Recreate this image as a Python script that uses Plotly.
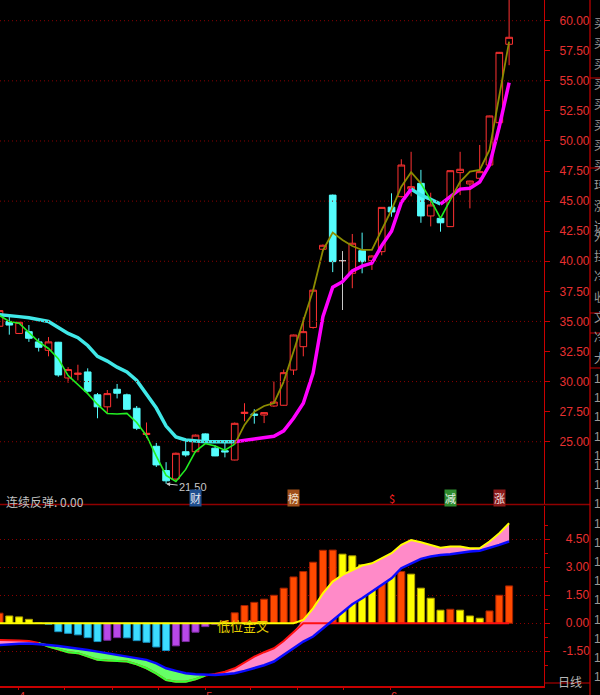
import plotly.graph_objects as go

# ---- price panel: 53 daily candles ----
opens = [34.6, 35.0, 34.0, 34.15, 33.3, 32.6, 33.27, 30.3, 30.6, 30.8,
         28.9, 27.9, 29.36, 28.9, 27.78, 25.6, 24.62, 22.6, 21.9, 24.17,
         24.17, 25.65, 24.46, 24.25, 23.48, 27.35, 27.3, 27.22, 27.97, 28.03,
         30.96, 32.9, 34.5, 41.0, 45.5, 40.05, 39.0, 40.88, 40.05, 40.8,
         44.5, 45.37, 46.0, 46.48, 43.77, 43.57, 42.88, 47.37, 46.43, 46.9,
         48.0, 51.52, 58.04]
highs = [36.3, 35.4, 34.95, 34.7, 33.6, 33.7, 33.3, 31.2, 31.4, 31.1,
         29.05, 29.3, 29.8, 29.0, 27.97, 26.6, 24.9, 23.3, 24.1, 25.2,
         25.6, 25.7, 24.7, 25.1, 26.6, 28.2, 27.7, 27.45, 30.0, 31.0,
         33.9, 35.35, 37.65, 41.4, 45.55, 40.85, 42.27, 42.38, 40.5, 44.5,
         45.65, 48.48, 49.1, 47.6, 45.7, 43.6, 47.55, 49.1, 46.7, 49.67,
         52.1, 57.4, 63.0]
lows = [34.3, 33.9, 33.95, 33.3, 32.5, 32.1, 30.4, 29.9, 30.1, 29.1,
        26.95, 27.4, 28.6, 27.65, 25.97, 25.3, 22.9, 21.5, 21.8, 23.75,
        24.1, 25.0, 23.8, 23.7, 23.45, 26.7, 26.5, 26.55, 27.9, 28.0,
        30.55, 32.1, 34.4, 40.95, 39.1, 35.95, 37.76, 39.0, 39.28, 40.5,
        43.7, 45.3, 45.4, 43.2, 42.9, 42.46, 42.85, 45.5, 44.4, 46.85,
        47.9, 51.4, 56.3]
closes = [35.9, 34.7, 34.93, 33.6, 32.85, 33.3, 30.55, 31.0, 30.7, 29.2,
          27.9, 29.0, 29.03, 27.7, 26.12, 25.7, 23.07, 21.75, 24.04, 23.9,
          25.55, 25.1, 23.82, 24.15, 26.53, 27.45, 27.2, 27.42, 28.3, 30.74,
          33.87, 34.15, 37.6, 41.33, 39.97, 40.05, 41.5, 39.97, 40.44, 44.48,
          44.1, 48.0, 46.2, 43.77, 44.68, 43.2, 47.53, 47.65, 46.67, 47.45,
          52.08, 57.37, 58.62]
ma_slow = [35.55, 35.5, 35.4, 35.3, 35.15, 35.0, 34.5, 34.0, 33.65, 33.0,
           32.1, 31.7, 31.2, 30.8, 30.1, 29.0, 27.8, 26.3, 25.4, 25.15,
           25.05, 25.0, 25.0, 25.0, 25.0, 25.1, 25.2, 25.3, 25.45, 25.9,
           26.95, 28.2, 30.7, 35.4, 37.84, 38.3, 39.2, 39.6, 39.85, 41.3,
           42.5, 44.9, 46.0, 45.5, 45.15, 44.76, 45.37, 46.0, 46.07, 46.6,
           48.0, 51.2, 54.85]
ma_fast = [35.5, 35.0, 34.85, 34.1, 33.3, 32.75, 31.9, 30.5, 29.75, 29.0,
           28.1, 27.35, 27.3, 27.36, 26.6, 25.5, 23.8, 22.2, 21.7, 22.7,
           24.2, 24.85, 24.65, 24.3, 24.8, 26.4, 27.5, 27.97, 28.2, 30.0,
           32.5, 35.1, 37.6, 40.9, 42.38, 41.77, 41.27, 40.94, 40.94, 42.6,
           44.27, 46.2, 47.4, 46.48, 45.1, 43.57, 45.1, 46.6, 47.45, 47.59,
           49.25, 53.68, 58.26]

# event badges under the candles
event_idx = [20, 30, 40, 46, 51]
event_text = ["财", "榜", "$", "减", "涨"]
event_bg = ["#1F4F8F", "#A0501A", "rgba(0,0,0,0)", "#2E8B2E", "#8B1A1A"]
event_fg = ["#E8E8F0", "#F0E0D0", "#FF2020", "#E8F0E8", "#F0E0E0"]

# ---- indicator panel ----
hist = [0.54, 0.39, 0.34, 0.21, 0.0, -0.05, -0.45, -0.54, -0.62, -0.77,
        -0.98, -0.91, -0.77, -0.78, -0.93, -1.02, -1.27, -1.46, -1.21, -0.98,
        -0.48, -0.18, -0.05, 0.12, 0.56, 0.95, 1.12, 1.29, 1.5, 1.88,
        2.48, 2.77, 3.27, 3.91, 3.92, 3.7, 3.61, 3.13, 2.64, 2.71,
        2.59, 2.77, 2.63, 1.88, 1.34, 0.70, 0.75, 0.70, 0.39, 0.27,
        0.66, 1.5, 2.0]
fast = [-0.9, -0.9, -0.92, -0.95, -1.05, -1.25, -1.4, -1.55, -1.6, -1.78,
        -1.96, -2.0, -2.02, -2.05, -2.2, -2.41, -2.7, -3.04, -3.13, -3.13,
        -3.0, -2.8, -2.72, -2.6, -2.41, -2.1, -1.79, -1.55, -1.34, -0.95,
        -0.45, 0.18, 0.8, 1.6, 2.23, 2.59, 2.86, 3.09, 3.21, 3.48,
        3.75, 4.2, 4.46, 4.34, 4.2, 4.05, 4.11, 4.11, 4.02, 4.02,
        4.38, 4.82, 5.36]
slow = [-1.16, -1.12, -1.1, -1.08, -1.1, -1.16, -1.22, -1.28, -1.34, -1.43,
        -1.52, -1.6, -1.68, -1.79, -1.88, -1.96, -2.15, -2.41, -2.55, -2.68,
        -2.73, -2.77, -2.77, -2.73, -2.68, -2.55, -2.41, -2.25, -2.05, -1.7,
        -1.34, -0.98, -0.71, -0.27, 0.18, 0.63, 1.02, 1.34, 1.7, 2.05,
        2.41, 2.95, 3.21, 3.45, 3.57, 3.66, 3.7, 3.79, 3.84, 3.88,
        4.02, 4.2, 4.38]

month_ticks = [1.9, 21.0, 39.85]
month_labels = ["4", "5", "6"]
week_ticks = [6.68, 11.48, 16.2, 25.6, 30.4, 35.05]

price_ticks = [25 + 2.5 * i for i in range(15)]
price_grid = [25, 30, 35, 40, 45, 50, 55, 60]
ind_ticks = [-1.5, 0.0, 1.5, 3.0, 4.5]

strip_chars = list("买买买买买买买买玛涨达外拦冷收文冷大")
strip_ones = ["1"] * 17

n = len(closes)
xs = list(range(n))
RED = "#E83030"
AX_RED = "#C80000"
GRID = "#8A0000"
DOT = "1px,3px"
NUM_FONT = "Liberation Sans"
CJK_FONT = "Noto Sans CJK SC"


def runs(vals, mask):
    """Keep vals only on segments (i-1, i) whose mask[i] is True."""
    out = [None] * len(vals)
    for i in range(1, len(vals)):
        if mask[i]:
            out[i - 1] = vals[i - 1]
            out[i] = vals[i]
    return out


fig = go.Figure()

# ---- candles ----
normal = [o != c for o, c in zip(opens, closes)]
pick = lambda arr, m: [v if k else None for v, k in zip(arr, m)]
fig.add_trace(go.Candlestick(
    x=xs, open=pick(opens, normal), high=pick(highs, normal),
    low=pick(lows, normal), close=pick(closes, normal),
    increasing=dict(line=dict(color="#FF3232", width=1), fillcolor="#000000"),
    decreasing=dict(line=dict(color="#54FCFC", width=1), fillcolor="#54FCFC"),
    whiskerwidth=0, hoverinfo="skip", xaxis="x", yaxis="y",
))
flat = [not m for m in normal]
fig.add_trace(go.Candlestick(
    x=xs, open=pick(opens, flat), high=pick(highs, flat),
    low=pick(lows, flat), close=pick(closes, flat),
    increasing=dict(line=dict(color="#C8C8C8", width=1), fillcolor="#C8C8C8"),
    decreasing=dict(line=dict(color="#C8C8C8", width=1), fillcolor="#C8C8C8"),
    whiskerwidth=0, hoverinfo="skip", xaxis="x", yaxis="y",
))

# ---- moving averages ----
rising = [False] + [ma_slow[i] > ma_slow[i - 1] for i in range(1, n)]
falling = [not r for r in rising]
fig.add_trace(go.Scatter(x=xs, y=runs(ma_slow, falling), mode="lines",
                         line=dict(color="#40E8E8", width=3.5), xaxis="x", yaxis="y"))
fig.add_trace(go.Scatter(x=xs, y=runs(ma_slow, rising), mode="lines",
                         line=dict(color="#FF00FF", width=3.5), xaxis="x", yaxis="y"))
above = [f >= s for f, s in zip(ma_fast, ma_slow)]
below = [not a for a in above]
fig.add_trace(go.Scatter(x=xs, y=runs(ma_fast, below), mode="lines",
                         line=dict(color="#22EE22", width=1.6), xaxis="x", yaxis="y"))
fig.add_trace(go.Scatter(x=xs, y=runs(ma_fast, above), mode="lines",
                         line=dict(color="#8C8C00", width=1.8), xaxis="x", yaxis="y"))

# ---- indicator fills ----
hi = [max(f, s) for f, s in zip(fast, slow)]
lo = [min(f, s) for f, s in zip(fast, slow)]
fig.add_trace(go.Scatter(x=xs, y=slow, mode="lines", line=dict(width=0),
                         xaxis="x2", yaxis="y2"))
fig.add_trace(go.Scatter(x=xs, y=hi, mode="lines", line=dict(width=0),
                         fill="tonexty", fillcolor="#FF8AC8", xaxis="x2", yaxis="y2"))
fig.add_trace(go.Scatter(x=xs, y=slow, mode="lines", line=dict(width=0),
                         xaxis="x2", yaxis="y2"))
fig.add_trace(go.Scatter(x=xs, y=lo, mode="lines", line=dict(width=0),
                         fill="tonexty", fillcolor="#66FF66", xaxis="x2", yaxis="y2"))

# ---- histogram ----
bar_fill, bar_edge = [], []
prev = 0.0
for v in hist:
    if v >= 0:
        up = v > prev
        bar_fill.append("#FF4A00" if up else "#FFFF00")
        bar_edge.append("#A02000" if up else "#B0A000")
    else:
        down = v < prev
        bar_fill.append("#3CDCFF" if down else "#B848E8")
        bar_edge.append("#1890C0" if down else "#7A2AA0")
    prev = v
fig.add_trace(go.Bar(x=xs, y=hist, width=0.72,
                     marker=dict(color=bar_fill, line=dict(color=bar_edge, width=1)),
                     xaxis="x2", yaxis="y2"))

# ---- indicator lines ----
fig.add_trace(go.Scatter(x=xs, y=[min(f, 0) for f in fast], mode="lines",
                         line=dict(color="#FF1010", width=2), xaxis="x2", yaxis="y2"))
under = [f < s for f, s in zip(fast, slow)]
fig.add_trace(go.Scatter(x=xs, y=runs(fast, under), mode="lines",
                         line=dict(color="#33FF33", width=2), xaxis="x2", yaxis="y2"))
fig.add_trace(go.Scatter(x=xs, y=slow, mode="lines",
                         line=dict(color="#0A0AFF", width=2.5), xaxis="x2", yaxis="y2"))
fig.add_trace(go.Scatter(x=xs, y=[max(f, 0) for f in fast], mode="lines",
                         line=dict(color="#FFFF00", width=2), xaxis="x2", yaxis="y2"))

# ---- annotations ----
ann = []
lo_i = lows.index(min(lows))
ann.append(dict(x=lo_i, y=lows[lo_i], xref="x", yref="y", text=f"{lows[lo_i]:.2f}",
                showarrow=True, arrowhead=2, arrowsize=0.8, arrowwidth=1,
                arrowcolor="#C8C8C8", ax=27, ay=3,
                font=dict(family=NUM_FONT, size=11, color="#C8C8C8")))
for i, t, bg, fg in zip(event_idx, event_text, event_bg, event_fg):
    ann.append(dict(x=i, y=20.35, xref="x", yref="y", text=t, showarrow=False,
                    bgcolor=bg, borderpad=0,
                    font=dict(family=CJK_FONT, size=11, color=fg)))
ann.append(dict(x=0.007, y=(686 - 512) / 686, xref="paper", yref="paper",
                xanchor="left", text="连续反弹: 0.00", showarrow=False,
                font=dict(family=CJK_FONT, size=12, color="#C0C0C0")))
ann.append(dict(x=24.8, y=-0.1, xref="x2", yref="y2", text="低位金叉",
                showarrow=False, font=dict(family=CJK_FONT, size=13, color="#E8D000")))
ann.append(dict(x=570 / 544, y=(686 - 692) / 686, xref="paper", yref="paper",
                xanchor="center", text="日线", showarrow=False,
                font=dict(family=CJK_FONT, size=12, color="#B8B8B8")))
for j, ch in enumerate(strip_chars):
    ann.append(dict(x=592 / 544, y=(686 - (12 + 20.3 * j)) / 686, xref="paper",
                    yref="paper", xanchor="left", text=ch, showarrow=False,
                    font=dict(family=CJK_FONT, size=12, color="#9A9A9A")))
for j, ch in enumerate(strip_ones):
    ann.append(dict(x=592 / 544, y=(686 - (379 + 19.2 * j)) / 686, xref="paper",
                    yref="paper", xanchor="left", text=ch, showarrow=False,
                    font=dict(family=NUM_FONT, size=12, color="#9A9A9A")))

# ---- shapes: grid, separators, frames ----
shapes = []
for g in price_grid:
    shapes.append(dict(type="line", xref="x domain", yref="y", x0=0, x1=1, y0=g, y1=g,
                       line=dict(color=GRID, width=1, dash=DOT)))
py = lambda px: (686 - px) / 686
shapes.append(dict(type="line", xref="paper", yref="paper", x0=0, x1=590 / 544,
                   y0=py(504.5), y1=py(504.5), line=dict(color="#900000", width=1.5)))
shapes.append(dict(type="line", xref="paper", yref="paper", x0=590 / 544, x1=590 / 544,
                   y0=py(695), y1=1, line=dict(color=AX_RED, width=1.2)))
shapes.append(dict(type="line", xref="paper", yref="paper", x0=1, x1=590 / 544,
                   y0=py(683), y1=py(683), line=dict(color=AX_RED, width=1.2)))
for yy in [78, 168, 313, 333, 368]:
    shapes.append(dict(type="line", xref="paper", yref="paper", x0=590 / 544, x1=600 / 544,
                       y0=py(yy), y1=py(yy), line=dict(color=AX_RED, width=1)))

xrange = [0.051, 55.56]
fig.update_layout(
    width=600, height=695,
    margin=dict(l=0, r=56, t=0, b=9, autoexpand=False),
    paper_bgcolor="#000000", plot_bgcolor="#000000",
    showlegend=False, barmode="overlay", boxgap=0.32, boxgroupgap=0,
    annotations=ann, shapes=shapes,
    xaxis=dict(domain=[0, 1], range=xrange, anchor="y", showticklabels=False,
               showgrid=False, zeroline=False, showline=False, automargin=False,
               rangeslider=dict(visible=False)),
    xaxis2=dict(domain=[0, 1], range=xrange, anchor="y2", showgrid=False, zeroline=False,
                showline=True, linecolor=AX_RED, linewidth=1.5, automargin=False,
                tickmode="array", tickvals=month_ticks, ticktext=month_labels,
                ticks="outside", ticklen=2, tickcolor=AX_RED, ticklabelshift=4,
                ticklabelstandoff=-3,
                tickfont=dict(family=NUM_FONT, size=11, color=RED),
                minor=dict(tickvals=week_ticks, ticks="outside", ticklen=2,
                           tickcolor=AX_RED),
                rangeslider=dict(visible=False)),
    yaxis=dict(domain=[0.26385, 1], range=[19.74, 61.72], anchor="x", side="right",
               tickmode="array", tickvals=price_ticks, tickformat=".2f",
               ticks="outside", ticklen=5, tickcolor=AX_RED, ticklabelstandoff=7,
               showline=True, linecolor=AX_RED, linewidth=1.2, automargin=False,
               showgrid=False, zeroline=False,
               tickfont=dict(family=NUM_FONT, size=12, color=RED)),
    yaxis2=dict(domain=[0, 0.26239], range=[-3.36, 6.28], anchor="x2", side="right",
                tickmode="array", tickvals=ind_ticks,
                ticktext=[("\u00a0" if v >= 0 else "") + f"{v:.2f}" for v in ind_ticks],
                ticks="outside", ticklen=5, tickcolor=AX_RED, ticklabelstandoff=10,
                minor=dict(tickvals=[-2.25, -0.75, 0.75, 2.25, 3.75, 5.25],
                           ticks="outside", ticklen=3, tickcolor=AX_RED),
                showline=True, linecolor=AX_RED, linewidth=1.2, automargin=False,
                showgrid=True, gridcolor=GRID, griddash=DOT, gridwidth=1,
                zeroline=False,
                tickfont=dict(family=NUM_FONT, size=12, color=RED)),
)

# the page body has an 8px default margin; drop it so the chart sits at the corner
fig.write_html("out.html", config={"displayModeBar": False},
               post_script="document.body.style.margin='0';")
